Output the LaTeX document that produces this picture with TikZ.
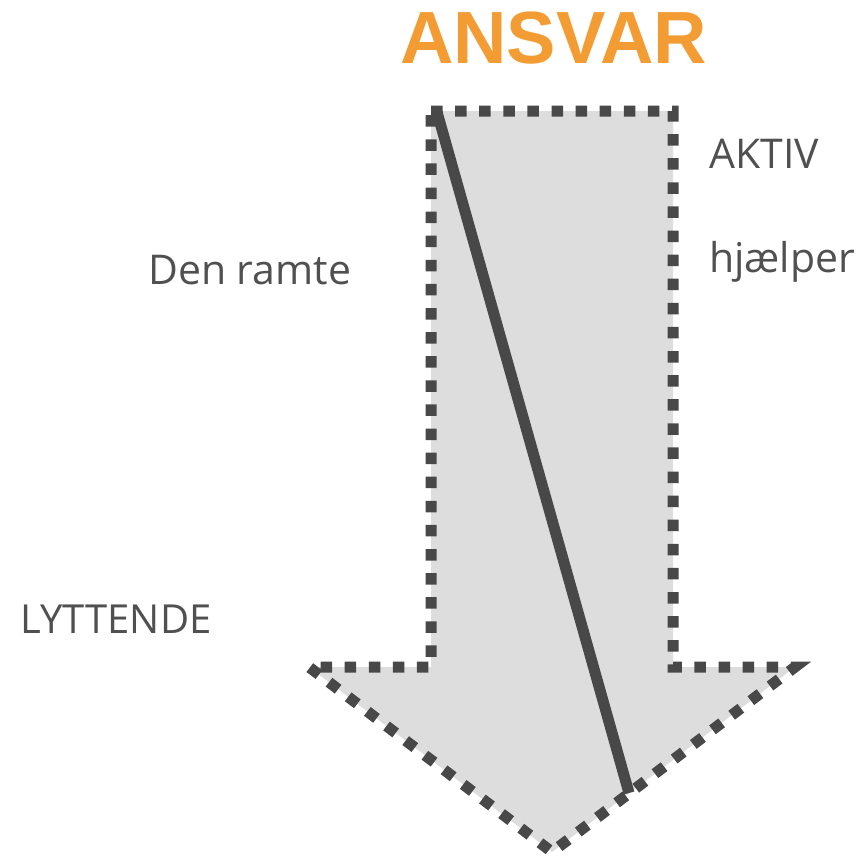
\documentclass[tikz,border=0pt]{standalone}
\usepackage{fontspec}
\setmainfont{Open Sans}
\newfontfamily\titlefont{Liberation Sans}
\definecolor{orangeA}{RGB}{243,156,52}
\definecolor{darkG}{RGB}{72,72,72}
\definecolor{textG}{RGB}{80,80,80}
\definecolor{fillG}{RGB}{221,221,221}
\begin{document}
\begin{tikzpicture}[x=1pt,y=-1pt,
  lbl/.style={font=\fontsize{41}{48}\selectfont, text=textG, inner sep=0pt, anchor=base west},
  outline/.style={draw=darkG, line width=11pt, dash pattern=on 11.5pt off 12.6pt, line join=miter},
  slash/.style={draw=darkG, line width=11pt}]
\useasboundingbox (0,0) rectangle (864,859);
% arrow corners
\coordinate (tl) at (431,111);
\coordinate (tr) at (673,111);
\coordinate (sr) at (673,667);
\coordinate (wr) at (795,667);
\coordinate (bt) at (552,852);
\coordinate (wl) at (309,667);
\coordinate (sl) at (431,667);
\fill[fillG] (tl) -- (tr) -- (sr) -- (wr) -- (bt) -- (wl) -- (sl) -- cycle;
\draw[outline] (tl) -- (tr) -- (sr) -- (wr) -- (bt) -- (wl) -- (sl) -- cycle;
% diagonal line
\coordinate (ds) at (437,112);
\coordinate (de) at (629,793);
\draw[slash] (ds) -- (de);
% texts
\node[font=\titlefont\bfseries\fontsize{74}{82}\selectfont, text=orangeA, inner sep=0pt, anchor=base] (title) at (553.5,63.5) {ANSVAR};
\node[lbl] (aktiv) at (709,168) {AKTIV};
\node[lbl] (hjaelper) at (709,272) {hjælper};
\node[lbl] (ramte) at (148,284) {Den ramte};
\node[lbl, font=\fontsize{40}{48}\selectfont] (lyttende) at (20.5,633) {LYTTENDE};
\end{tikzpicture}
\end{document}
